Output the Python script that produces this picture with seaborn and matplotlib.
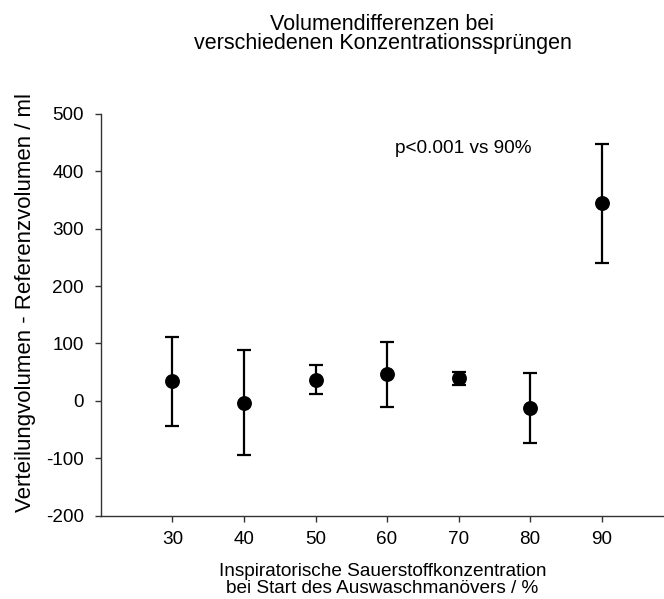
import numpy as np
import pandas as pd
import matplotlib
matplotlib.use("Agg")
import matplotlib.pyplot as plt
import seaborn as sns

# Inspired oxygen fraction at the start of the washout manoeuvre (%)
concentration = [30, 40, 50, 60, 70, 80, 90]
# Mean difference distribution volume - reference volume (ml)
volume_diff = [34, -3, 37, 46, 39, -12, 344]
# Standard deviation (ml)
volume_sd = [78, 92, 26, 57, 12, 61, 103]

x_ticks = [30, 40, 50, 60, 70, 80, 90]
y_ticks = [-200, -100, 0, 100, 200, 300, 400, 500]

title_text = "Volumendifferenzen bei\nverschiedenen Konzentrationssprüngen"
x_label = "Inspiratorische Sauerstoffkonzentration\nbei Start des Auswaschmanövers / %"
y_label = "Verteilungvolumen - Referenzvolumen / ml"
note_text = "p<0.001 vs 90%"

df = pd.DataFrame({"conc": concentration, "diff": volume_diff, "sd": volume_sd})

sns.set_theme(style="ticks")
plt.rcParams["font.family"] = ["Liberation Sans", "DejaVu Sans"]
plt.rcParams["axes.unicode_minus"] = False
plt.rcParams["text.color"] = "black"
plt.rcParams["axes.labelcolor"] = "black"
plt.rcParams["xtick.color"] = "black"
plt.rcParams["ytick.color"] = "black"

W, H = 664, 599
fig = plt.figure(figsize=(W / 100, H / 100), dpi=100)
left, right, top, bottom = 101, 664, 114, 515.5
ax = fig.add_axes([left / W, 1 - bottom / H, (right - left) / W, (bottom - top) / H])

ax.errorbar(df["conc"], df["diff"], yerr=df["sd"], fmt="none", ecolor="black",
            elinewidth=1.6, capsize=5, capthick=1.6, zorder=2)
sns.scatterplot(data=df, x="conc", y="diff", ax=ax, color="black", s=115,
                edgecolor="black", linewidth=0, zorder=3, legend=False)

ax.set_xlim(20, 20 + (right - left) / 7.15)
ax.set_ylim(-200, 500)
ax.set_xticks(x_ticks)
ax.set_yticks(y_ticks)
ax.tick_params(axis="both", labelsize=13.6, length=4, width=1, color="#333333",
               direction="out")
ax.tick_params(axis="y", pad=8.5)
ax.tick_params(axis="x", pad=7)
for s in ("top", "right"):
    ax.spines[s].set_visible(False)
for s in ("left", "bottom"):
    ax.spines[s].set_color("#333333")
    ax.spines[s].set_linewidth(1)

ax.set_xlabel(x_label, fontsize=13.7, labelpad=11, linespacing=0.98)
ax.set_ylabel(y_label, fontsize=16)
ax.yaxis.set_label_coords(-(101 - 36) / (right - left), (515.5 - 303) / (bottom - top))
ax.set_title(title_text, fontsize=15.5, pad=47, linespacing=0.86)

ax.text(61.1, 440, note_text, fontsize=13.7, ha="left", va="center")

fig.savefig("out.png", dpi=100)
